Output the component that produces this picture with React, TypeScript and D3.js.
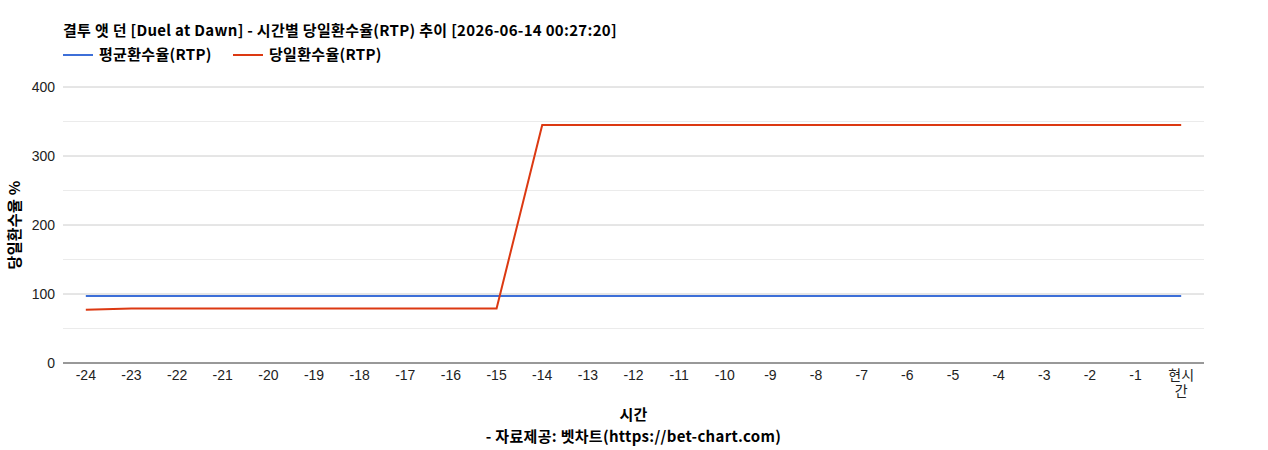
import { useMemo } from "react";
import * as d3 from "d3";

const TITLE = "결투 앳 던 [Duel at Dawn] - 시간별 당일환수율(RTP) 추이 [2026-06-14 00:27:20]";
const hours = [ "-24", "-23", "-22", "-21", "-20", "-19", "-18", "-17", "-16", "-15", "-14", "-13", "-12", "-11", "-10", "-9", "-8", "-7", "-6", "-5", "-4", "-3", "-2", "-1", "현시간" ];
const avgRtp = [ 97, 97, 97, 97, 97, 97, 97, 97, 97, 97, 97, 97, 97, 97, 97, 97, 97, 97, 97, 97, 97, 97, 97, 97, 97 ];
const dayRtp = [ 77, 79, 79, 79, 79, 79, 79, 79, 79, 79, 345, 345, 345, 345, 345, 345, 345, 345, 345, 345, 345, 345, 345, 345, 345 ];
const yMajor = [ 0, 100, 200, 300, 400 ];
const yMinor = [ 50, 150, 250, 350 ];

const series = [
    { key: "avg", label: "평균환수율(RTP)", color: "#3d6fd8", values: avgRtp },
    { key: "day", label: "당일환수율(RTP)", color: "#dc3912", values: dayRtp },
];

const FONT = "Arial, 'Liberation Sans', 'Noto Sans CJK KR', sans-serif";
const BOLD_FONT = "'Noto Sans CJK KR', 'Noto Sans', sans-serif";

export default function App ()
{
    const W = 1268, H = 450;
    const m = { top: 87, right: 64, bottom: 87, left: 63 };
    const w = W - m.left - m.right;
    const h = H - m.top - m.bottom;

    const x = useMemo( () => d3.scaleBand<string>().domain( hours ).range( [ 0, w ] ), [ w ] );
    const y = useMemo( () => d3.scaleLinear().domain( [ 0, 400 ] ).range( [ h, 0 ] ), [ h ] );
    const cx = ( d: string ) => ( x( d ) ?? 0 ) + x.bandwidth() / 2;

    const line = d3.line<number>()
        .x( ( _, i ) => cx( hours[ i ] ) )
        .y( ( d ) => y( d ) );

    const boldText = { fontSize: 15, fontWeight: "bold", fontFamily: BOLD_FONT, fill: "#000", letterSpacing: 0.3 } as const;

    return (
        <div style={ { position: "absolute", left: 0, top: 0 } }>
            <svg width={ W } height={ H } style={ { display: "block", background: "#fff" } } fontFamily={ FONT }>
                {/* Title */ }
                <text x={ m.left } y={ 36 } { ...boldText }>{ TITLE }</text>

                {/* Legend */ }
                { series.map( ( s, i ) =>
                {
                    const lx = m.left + i * 170;
                    return (
                        <g key={ s.key } transform={ `translate(${ lx },55)` }>
                            <line x1={ 0 } x2={ 30 } y1={ 0 } y2={ 0 } stroke={ s.color } strokeWidth={ 2 } />
                            <text x={ 36 } y={ 5 } { ...boldText }>{ s.label }</text>
                        </g>
                    );
                } ) }

                <g transform={ `translate(${ m.left },${ m.top })` }>
                    {/* Grid */ }
                    { yMinor.map( ( t ) => (
                        <line key={ "n" + t } x1={ 0 } x2={ w } y1={ y( t ) } y2={ y( t ) } stroke="#ebebeb" strokeWidth={ 1 } />
                    ) ) }
                    { yMajor.filter( ( t ) => t > 0 ).map( ( t ) => (
                        <line key={ "j" + t } x1={ 0 } x2={ w } y1={ y( t ) } y2={ y( t ) } stroke="#cccccc" strokeWidth={ 1 } />
                    ) ) }
                    { yMajor.map( ( t ) => (
                        <text key={ "yl" + t } x={ -8 } y={ y( t ) + 5 } textAnchor="end" fontSize={ 14 } fill="#222">{ t }</text>
                    ) ) }

                    {/* Lines */ }
                    { series.map( ( s ) => (
                        <path key={ s.key } d={ line( s.values ) ?? "" } fill="none" stroke={ s.color } strokeWidth={ 2 } />
                    ) ) }

                    {/* Baseline */ }
                    <line x1={ 0 } x2={ w } y1={ h } y2={ h } stroke="#333" strokeWidth={ 1 } />

                    {/* X ticks */ }
                    { hours.map( ( d ) =>
                    {
                        if ( d === "현시간" )
                        {
                            return (
                                <text key={ d } x={ cx( d ) } y={ h + 17 } textAnchor="middle" fontSize={ 14 } fill="#222">
                                    <tspan x={ cx( d ) }>현시</tspan>
                                    <tspan x={ cx( d ) } dy={ 16 }>간</tspan>
                                </text>
                            );
                        }
                        return <text key={ d } x={ cx( d ) } y={ h + 17 } textAnchor="middle" fontSize={ 14 } fill="#222">{ d }</text>;
                    } ) }
                </g>

                {/* Axis titles */ }
                <text transform={ `translate(20,${ m.top + h / 2 }) rotate(-90)` } textAnchor="middle" { ...boldText }>당일환수율 %</text>
                <text x={ m.left + w / 2 } y={ 420 } textAnchor="middle" { ...boldText }>시간</text>
                <text x={ m.left + w / 2 } y={ 442 } textAnchor="middle" { ...boldText }>- 자료제공: 벳차트(https://bet-chart.com)</text>
            </svg>
        </div>
    );
}
